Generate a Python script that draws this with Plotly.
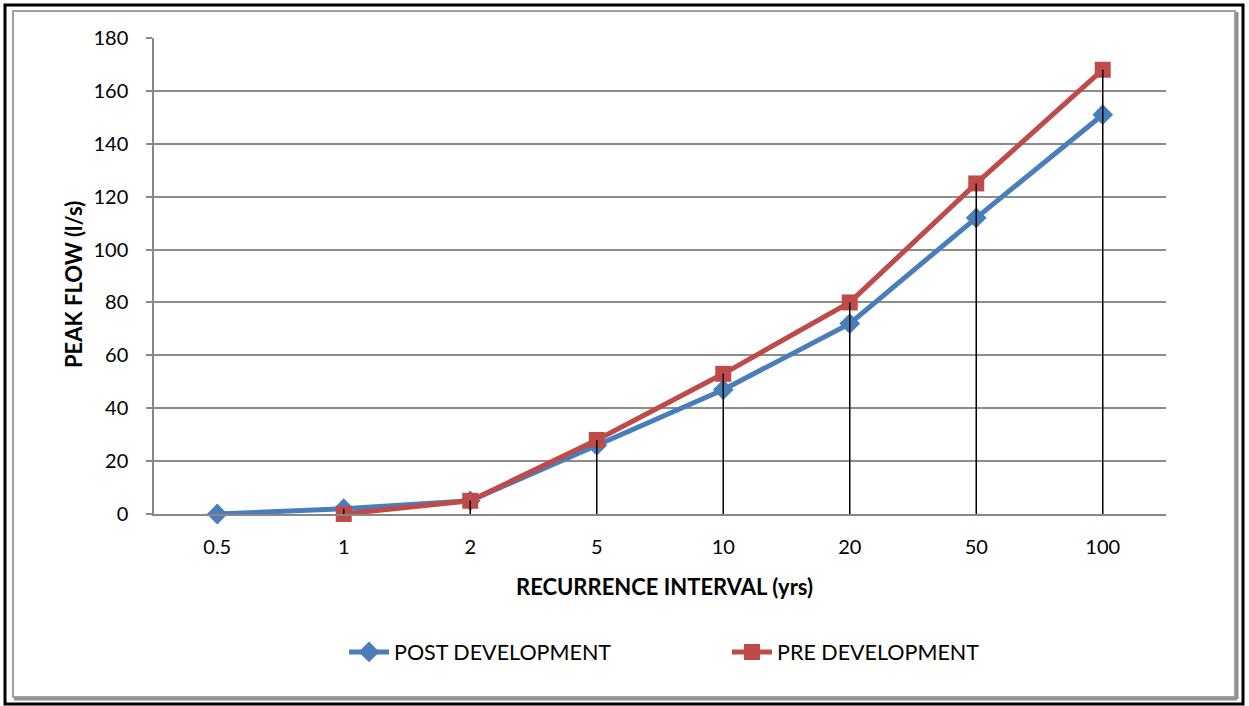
import plotly.graph_objects as go

categories = ["0.5", "1", "2", "5", "10", "20", "50", "100"]
post_dev = [0, 2, 5, 26, 47, 72, 112, 151]
pre_dev = [None, 0, 5, 28, 53, 80, 125, 168]
y_ticks = [0, 20, 40, 60, 80, 100, 120, 140, 160, 180]

FONT = "Lato"
W, H = 1249, 706
# reference pixel positions of the plot area
X0, X1, Y0, Y1 = 154, 1166, 38, 514
L, R, T, B = X0, W - X1, Y0, H - Y1
PW, PH = W - L - R, H - T - B


def px(x):
    return (x - L) / PW


def py(y):
    return (H - B - y) / PH


fig = go.Figure()
fig.add_trace(go.Scatter(
    x=categories, y=post_dev, name="POST DEVELOPMENT", mode="lines+markers",
    line=dict(color="#4A7EBB", width=5),
    marker=dict(symbol="diamond", size=16, color="#4A7EBB"),
    cliponaxis=False))
fig.add_trace(go.Scatter(
    x=categories, y=pre_dev, name="PRE DEVELOPMENT", mode="lines+markers",
    line=dict(color="#BE4B48", width=5),
    marker=dict(symbol="square", size=16, color="#BE4B48"),
    cliponaxis=False, connectgaps=False))

# drop lines from the highest point of each category to the axis
dx, dy = [], []
for c, a, b in zip(categories, post_dev, pre_dev):
    top = max(v for v in (a, b) if v is not None)
    dx += [c, c, None]
    dy += [top, 0, None]
fig.add_trace(go.Scatter(x=dx, y=dy, mode="lines", showlegend=False,
                         line=dict(color="black", width=1.5), hoverinfo="skip",
                         cliponaxis=False))

shapes = [
    # outer black border
    dict(type="rect", xref="paper", yref="paper", x0=px(5), x1=px(1243), y0=py(704), y1=py(5),
         line=dict(color="black", width=3)),
    # inner gray frame
    dict(type="rect", xref="paper", yref="paper", x0=px(13), x1=px(1235), y0=py(697), y1=py(11),
         line=dict(color="#A0A0A0", width=2)),
    # shadow right/bottom
    dict(type="line", xref="paper", yref="paper", x0=px(1237), x1=px(1237), y0=py(699), y1=py(12),
         line=dict(color="#909090", width=3)),
    dict(type="line", xref="paper", yref="paper", x0=px(14), x1=px(1237), y0=py(699), y1=py(699),
         line=dict(color="#909090", width=3)),
]

annotations = [
    dict(text="<b>RECURRENCE INTERVAL (yrs)</b>", xref="paper", yref="paper",
         x=px(664), y=py(586), showarrow=False, xanchor="center", yanchor="middle",
         font=dict(family=FONT, size=22, color="black")),
    dict(text="<b>PEAK FLOW (l/s)</b>", xref="paper", yref="paper",
         x=px(73), y=py(285), showarrow=False, xanchor="center", yanchor="middle",
         textangle=-90, font=dict(family=FONT, size=22, color="black")),
]

fig.update_layout(
    width=W, height=H,
    margin=dict(l=L, r=R, t=T, b=B),
    paper_bgcolor="white", plot_bgcolor="white",
    font=dict(family=FONT, size=20, color="black"),
    showlegend=True,
    hovermode=False,
    legend=dict(orientation="h", x=px(344), y=py(652), xanchor="left", yanchor="middle",
                font=dict(family=FONT, size=21.5, color="black"), itemwidth=40,
                tracegroupgap=0, entrywidthmode="pixels", entrywidth=328),
    shapes=shapes,
    annotations=annotations,
    xaxis=dict(type="category", categoryorder="array", categoryarray=categories,
               range=[-0.5, len(categories) - 0.5], showgrid=False, zeroline=False,
               showline=True, linecolor="#888888", linewidth=1.5, ticks="",
               ticklabelstandoff=14, tickfont=dict(family=FONT, size=20, color="black")),
    yaxis=dict(range=[0, 180], tickvals=y_ticks, showgrid=True, gridcolor="#8C8C8C",
               gridwidth=1.5, zeroline=False, showline=True, linecolor="#888888",
               linewidth=1.5, ticks="outside", ticklen=6, tickcolor="#888888", tickwidth=1.5,
               ticklabelstandoff=14, tickfont=dict(family=FONT, size=20, color="black")),
)

fig.write_html("out.html", config={"displayModeBar": False},
               post_script="document.body.style.margin='0';document.body.style.overflow='hidden';")
